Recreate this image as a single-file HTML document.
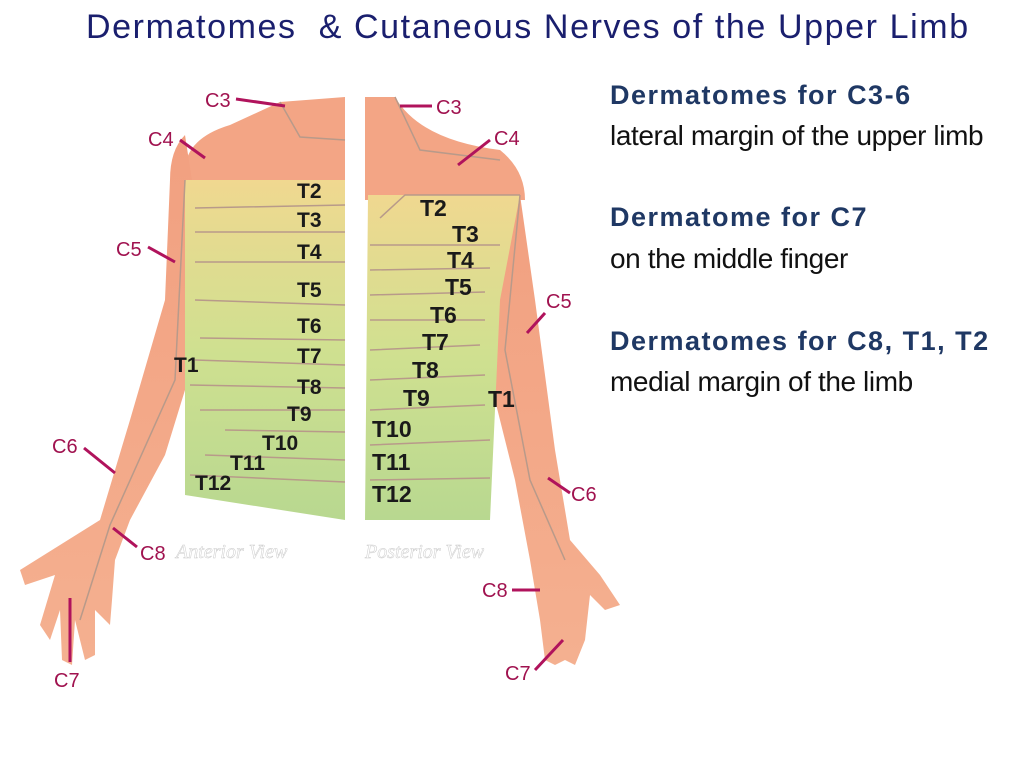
<!DOCTYPE html>
<html><head><meta charset="utf-8"><style>
body{margin:0;width:1024px;height:768px;background:#fff;overflow:hidden;font-family:"Liberation Sans",sans-serif}
.t{position:absolute;left:86px;top:8px;font-size:34px;color:#1a1f6e;font-family:"Liberation Sans",sans-serif;white-space:nowrap;letter-spacing:1.6px}
.h{position:absolute;left:610px;font-size:27px;font-weight:bold;color:#1f3864;letter-spacing:1.5px;white-space:nowrap}
.s{position:absolute;left:610px;font-size:28px;color:#111;letter-spacing:-0.4px;white-space:nowrap}
</style></head><body>
<div class="t">Dermatomes &nbsp;&amp; Cutaneous Nerves of the Upper Limb</div>
<div class="h" style="top:80px">Dermatomes for C3-6</div>
<div class="s" style="top:120px">lateral margin of the upper limb</div>
<div class="h" style="top:202px">Dermatome for C7</div>
<div class="s" style="top:243px">on the middle finger</div>
<div class="h" style="top:326px">Dermatomes for C8, T1, T2</div>
<div class="s" style="top:366px">medial margin of the limb</div>
<svg width="1024" height="768" style="position:absolute;left:0;top:0">
<defs>
<linearGradient id="g" x1="0" y1="0" x2="0" y2="1"><stop offset="0" stop-color="#f0d890"/><stop offset="0.5" stop-color="#cfe090"/><stop offset="1" stop-color="#b8d890"/></linearGradient>
<linearGradient id="sk" x1="0" y1="0" x2="0" y2="1"><stop offset="0" stop-color="#f2a080"/><stop offset="1" stop-color="#f4b090"/></linearGradient>
</defs>
<path d="M280,102 L345,97 L345,180 L185,180 Q180,140 230,125 Z" fill="#f3a585"/>
<path d="M185,135 Q170,150 170,180 L165,300 L130,420 L100,520 L60,545 L20,570 L25,585 L55,575 L40,625 L50,640 L60,610 L62,660 L72,665 L75,620 L85,660 L95,655 L95,610 L110,625 L112,600 L115,560 L130,520 L165,455 L185,390 L195,200 Z" fill="url(#sk)"/>
<path d="M185,180 L345,180 L345,520 L185,495 Z" fill="url(#g)"/>
<g stroke="#b89a8a" stroke-width="1.5" fill="none">
<path d="M195,208 L345,205 M195,232 L345,232 M195,262 L345,262 M195,300 L345,305 M200,338 L345,340 M195,360 L345,365 M190,385 L345,388 M200,410 L345,410 M225,430 L345,432 M205,455 L345,460 M190,475 L345,482"/>
<path d="M280,102 L300,137 L345,140 M185,180 L175,380 L110,525 L80,620"/>
</g>
<path d="M365,97 L395,97 Q420,140 500,150 Q525,170 525,200 L365,200 Z" fill="#f3a585"/>
<path d="M520,195 L535,300 L555,450 L570,540 L600,575 L620,605 L605,610 L590,595 L585,640 L575,665 L565,660 L555,665 L545,660 L540,620 L530,560 L515,480 L495,400 L480,330 Z" fill="url(#sk)"/>
<path d="M368,195 L520,195 L500,300 L490,520 L365,520 Z" fill="url(#g)"/>
<g stroke="#b89a8a" stroke-width="1.5" fill="none">
<path d="M380,218 L405,195 L520,195 M370,245 L500,245 M370,270 L490,268 M370,295 L485,292 M370,320 L485,320 M370,350 L480,345 M370,380 L485,375 M370,410 L485,405 M370,445 L490,440 M370,480 L490,478"/>
<path d="M395,97 L420,150 L500,160 M520,195 L505,350 L530,480 L565,560"/>
</g>
<text x="176" y="558" font-size="20" fill="#fff" stroke="#ccc" stroke-width="0.5" font-style="italic" font-family="Liberation Serif">Anterior View</text>
<text x="365" y="558" font-size="20" fill="#fff" stroke="#ccc" stroke-width="0.5" font-style="italic" font-family="Liberation Serif">Posterior View</text>
<g stroke="#b0135c" stroke-width="3">
<line x1="236" y1="99" x2="285" y2="106"/><line x1="180" y1="140" x2="205" y2="158"/><line x1="148" y1="247" x2="175" y2="262"/>
<line x1="84" y1="448" x2="115" y2="473"/><line x1="113" y1="528" x2="137" y2="547"/><line x1="70" y1="598" x2="70" y2="662"/>
<line x1="400" y1="106" x2="432" y2="106"/><line x1="490" y1="140" x2="458" y2="165"/><line x1="545" y1="313" x2="527" y2="333"/>
<line x1="548" y1="478" x2="570" y2="493"/><line x1="512" y1="590" x2="540" y2="590"/><line x1="535" y1="670" x2="563" y2="640"/>
</g>
<g font-size="20" fill="#a0124f">
<text x="205" y="107">C3</text><text x="148" y="146">C4</text><text x="116" y="256">C5</text><text x="52" y="453">C6</text>
<text x="140" y="560">C8</text><text x="54" y="687">C7</text>
<text x="436" y="114">C3</text><text x="494" y="145">C4</text><text x="546" y="308">C5</text><text x="571" y="501">C6</text>
<text x="482" y="597">C8</text><text x="505" y="680">C7</text>
</g>
<g font-size="21" font-weight="bold" fill="#1a1a1a">
<text x="297" y="198">T2</text><text x="297" y="227">T3</text><text x="297" y="259">T4</text><text x="297" y="297">T5</text>
<text x="297" y="333">T6</text><text x="297" y="363">T7</text><text x="297" y="394">T8</text><text x="287" y="421">T9</text>
<text x="262" y="450">T10</text><text x="230" y="470">T11</text><text x="195" y="490">T12</text><text x="174" y="372">T1</text>
<text x="420" y="216" font-size="23">T2</text><text x="452" y="242" font-size="23">T3</text><text x="447" y="268" font-size="23">T4</text>
<text x="445" y="295" font-size="23">T5</text><text x="430" y="323" font-size="23">T6</text><text x="422" y="350" font-size="23">T7</text>
<text x="412" y="378" font-size="23">T8</text><text x="403" y="406" font-size="23">T9</text><text x="372" y="437" font-size="23">T10</text>
<text x="372" y="470" font-size="23">T11</text><text x="372" y="502" font-size="23">T12</text><text x="488" y="407" font-size="23">T1</text>
</g>
</svg>
</body></html>
